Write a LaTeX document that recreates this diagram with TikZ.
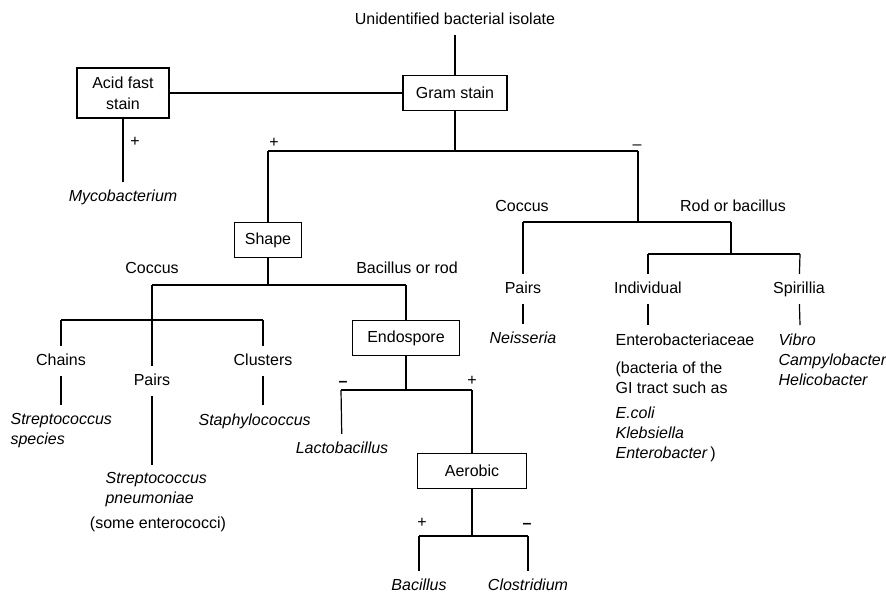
\documentclass[tikz,border=0pt]{standalone}
\usepackage{fontspec}
\setmainfont{Liberation Sans}
\newcommand{\keyfont}{\fontsize{16}{20}\selectfont}
\begin{document}
\begin{tikzpicture}[x=1pt,y=-1pt,line width=1.2pt,font=\keyfont]
\tikzstyle{box}=[draw,inner sep=0pt,minimum height=35pt]
\tikzstyle{txt}=[inner sep=0pt,text height=12pt,text depth=3.5pt,minimum height=29pt]
\tikzstyle{ital}=[font=\keyfont\itshape]
\tikzstyle{lbl}=[inner sep=0pt]
\tikzstyle{list}=[inner sep=0pt,align=left,anchor=north west]
\useasboundingbox (0,0) rectangle (886,595);
% first tests
\node[txt] (ISO) at (455,20) {Unidentified bacterial isolate};
\node[box,minimum width=104pt] (GRAM) at (455,93) {Gram stain};
\node[box,minimum width=92pt,minimum height=50pt,align=center] (ACID) at (123,93) {Acid fast\\[1pt]stain};
\node[txt,ital] (MYCO) at (123,197) {Mycobacterium};
\node[lbl] (PA) at (135,142) {+};
\draw (ISO) -- (GRAM);
\draw (ACID) -- (GRAM);
\draw (ACID) -- (MYCO);
\coordinate (G1) at (455,151);
\coordinate (GP) at (268,151);
\coordinate (GN) at (638,151);
\node[lbl] (PG) at (274,143) {+};
\node[lbl] (MG) at (637,147) {--};
\draw (GRAM) -- (G1);
\draw (GP) -- (GN);
% gram positive
\node[box,minimum width=67pt] (SHAPE) at (268,240) {Shape};
\draw (GP) -- (SHAPE);
\coordinate (S1) at (268,285);
\coordinate (SC) at (152,285);
\coordinate (SB) at (406,285);
\node[lbl] (COC1) at (152,268) {Coccus};
\node[lbl] (BAC1) at (407,268) {Bacillus or rod};
\draw (SHAPE) -- (S1);
\draw (SC) -- (SB);
\coordinate (C1) at (152,320);
\coordinate (CL) at (61,320);
\coordinate (CR) at (263,320);
\draw (SC) -- (C1);
\draw (CL) -- (CR);
\node[txt] (CHAINS) at (61,361) {Chains};
\node[txt] (PAIRS1) at (152,381) {Pairs};
\node[txt] (CLUST) at (263,361) {Clusters};
\draw (CL) -- (CHAINS);
\draw (C1) -- (PAIRS1);
\draw (CR) -- (CLUST);
\coordinate (CH2) at (61,405);
\coordinate (PR2) at (152,465);
\coordinate (CU2) at (263,405);
\draw (CHAINS) -- (CH2);
\draw (PAIRS1) -- (PR2);
\draw (CLUST) -- (CU2);
\node[list,ital] (STREP) at (10,413) {Streptococcus\\species};
\node[list,ital] (PNEU) at (105,472) {Streptococcus\\pneumoniae};
\node[lbl,anchor=base] (ENTC) at (158,528) {(some enterococci)};
\node[list,ital] (STAPH) at (198,413) {Staphylococcus};
\node[box,minimum width=107pt] (ENDO) at (406,338) {Endospore};
\draw (SB) -- (ENDO);
\coordinate (E1) at (406,390);
\coordinate (EN) at (341,390);
\coordinate (EP) at (472,390);
\node[lbl] (ME) at (343,384) {\textbf{--}};
\node[lbl] (PE) at (472,381) {+};
\draw (ENDO) -- (E1);
\draw (EN) -- (EP);
\node[txt,ital] (LACTO) at (342,449) {Lactobacillus};
\draw (EN) -- (LACTO);
\node[box,minimum width=109pt] (AERO) at (472,471) {Aerobic};
\draw (EP) -- (AERO);
\coordinate (A1) at (472,536);
\coordinate (AP) at (419,536);
\coordinate (AN) at (528,536);
\node[lbl] (PAE) at (422,523) {+};
\node[lbl] (MAE) at (527,526) {\textbf{--}};
\draw (AERO) -- (A1);
\draw (AP) -- (AN);
\node[txt,ital] (BACI) at (419,586) {Bacillus};
\node[txt,ital] (CLOS) at (528,586) {Clostridium};
\draw (AP) -- (BACI);
\draw (AN) -- (CLOS);
% gram negative
\coordinate (N1) at (638,222);
\coordinate (NC) at (523,222);
\coordinate (NR) at (731,222);
\node[lbl] (COC2) at (522,206) {Coccus};
\node[lbl] (ROD2) at (733,206) {Rod or bacillus};
\draw (GN) -- (N1);
\draw (NC) -- (NR);
\node[txt] (PAIRS2) at (523,289) {Pairs};
\node[txt,ital] (NEIS) at (523,339) {Neisseria};
\draw (NC) -- (PAIRS2);
\draw (PAIRS2) -- (NEIS);
\coordinate (R1) at (731,254);
\coordinate (RI) at (648,254);
\coordinate (RS) at (800,254);
\draw (NR) -- (R1);
\draw (RI) -- (RS);
\node[txt] (INDIV) at (648,289) {Individual};
\node[txt] (SPIR) at (799,289) {Spirillia};
\draw (RI) -- (INDIV);
\draw (RS) -- (SPIR);
\coordinate (IN2) at (648,325);
\coordinate (SP2) at (800,325);
\draw (INDIV) -- (IN2);
\draw (SPIR) -- (SP2);
\node[list] (ENTB) at (615,333) {Enterobacteriaceae\\[8pt](bacteria of the\\GI tract such as\\[5pt]\textit{E.coli}\\\textit{Klebsiella}\\\textit{Enterobacter}\,)};
\node[list,ital] (VIB) at (778,333) {Vibro\\Campylobacter\\Helicobacter};
\end{tikzpicture}
\end{document}
